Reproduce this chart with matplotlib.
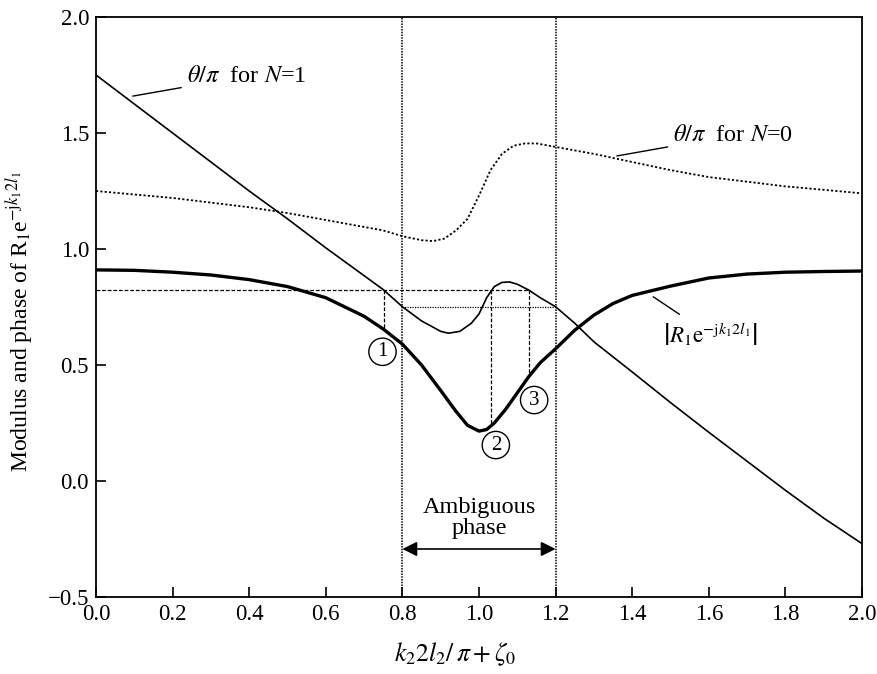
import matplotlib
matplotlib.use("Agg")
import matplotlib.pyplot as plt
import numpy as np

plt.rcParams["font.family"] = ["Liberation Serif", "DejaVu Serif"]
plt.rcParams["mathtext.fontset"] = "stix"

# theta/pi for N=1 (thin solid)
x_n1 = [0.0, 0.1, 0.2, 0.3, 0.4, 0.5, 0.6, 0.7, 0.75, 0.8, 0.85, 0.9, 0.92,
        0.95, 0.98, 1.0, 1.02, 1.04, 1.06, 1.08, 1.1, 1.13, 1.16, 1.2, 1.25,
        1.3, 1.4, 1.5, 1.6, 1.7, 1.8, 1.9, 2.0]
y_n1 = [1.75, 1.625, 1.50, 1.375, 1.25, 1.13, 1.005, 0.885, 0.825, 0.751,
        0.69, 0.645, 0.637, 0.645, 0.68, 0.72, 0.79, 0.838, 0.856, 0.858,
        0.848, 0.823, 0.79, 0.751, 0.68, 0.60, 0.47, 0.338, 0.21, 0.085,
        -0.04, -0.16, -0.27]

# theta/pi for N=0 (dotted)
x_n0 = [0.0, 0.1, 0.2, 0.3, 0.4, 0.5, 0.6, 0.7, 0.75, 0.8, 0.85, 0.88, 0.91,
        0.94, 0.97, 1.0, 1.03, 1.06, 1.09, 1.12, 1.15, 1.2, 1.3, 1.4, 1.5,
        1.6, 1.7, 1.8, 1.9, 2.0]
y_n0 = [1.25, 1.235, 1.22, 1.20, 1.18, 1.155, 1.125, 1.095, 1.08, 1.055,
        1.038, 1.034, 1.045, 1.08, 1.13, 1.23, 1.34, 1.41, 1.445, 1.455,
        1.455, 1.44, 1.41, 1.375, 1.34, 1.31, 1.29, 1.27, 1.255, 1.24]

# modulus |R1 exp(-j k1 2 l1)| (thick solid)
x_mod = [0.0, 0.1, 0.2, 0.3, 0.4, 0.5, 0.6, 0.7, 0.75, 0.8, 0.85, 0.9, 0.94,
         0.97, 1.0, 1.02, 1.04, 1.07, 1.1, 1.13, 1.16, 1.2, 1.25, 1.3, 1.35,
         1.4, 1.5, 1.6, 1.7, 1.8, 1.9, 2.0]
y_mod = [0.91, 0.908, 0.90, 0.888, 0.868, 0.838, 0.79, 0.71, 0.655, 0.59,
         0.50, 0.39, 0.30, 0.24, 0.215, 0.222, 0.25, 0.31, 0.38, 0.45, 0.51,
         0.57, 0.65, 0.715, 0.765, 0.80, 0.84, 0.875, 0.892, 0.90, 0.903,
         0.905]

# construction lines
ambig_lo, ambig_hi = 0.8, 1.2
level_hi = 0.823
level_lo = 0.751
x_points = [0.752, 1.031, 1.131]
labels = ["1", "2", "3"]
label_pos = [(0.748, 0.557), (1.044, 0.155), (1.144, 0.349)]

fig = plt.figure(figsize=(8.78, 6.74), dpi=100)
ax = fig.add_axes([96 / 878, 1 - 597 / 674, 766 / 878, 580 / 674])

ax.plot(x_n1, y_n1, color="black", lw=1.2)
ax.plot(x_n0, y_n0, color="black", lw=1.3, linestyle=(0, (1.2, 1.2)))
ax.plot(x_mod, y_mod, color="black", lw=2.4)

for xv in (ambig_lo, ambig_hi):
    ax.axvline(xv, color="black", lw=1.1, linestyle=(0, (1, 0.8)))

ax.plot([0, x_points[2]], [level_hi, level_hi], color="black", lw=0.9,
        linestyle=(0, (3, 1.5)))
ax.plot([ambig_lo, ambig_hi], [level_lo, level_lo], color="black", lw=0.9,
        linestyle=(0, (1, 1)))
for xp in x_points:
    ax.plot([xp, xp], [level_hi, np.interp(xp, x_mod, y_mod)], color="black",
            lw=0.9, linestyle=(0, (3, 1.5)))

for (tx, ty), lab in zip(label_pos, labels):
    ax.text(tx, ty, lab, ha="center", va="center", fontsize=15,
            bbox=dict(boxstyle="circle,pad=0.2", fc="white", ec="black", lw=1.0))

# curve labels with leader lines
ax.annotate(r"$\theta/\pi$  for $N$=1", xy=(0.096, 1.659), xytext=(0.237, 1.745),
            fontsize=17.5, va="center",
            arrowprops=dict(arrowstyle="-", color="black", lw=1.0, shrinkA=2, shrinkB=0))
ax.annotate(r"$\theta/\pi$  for $N$=0", xy=(1.36, 1.401), xytext=(1.507, 1.49),
            fontsize=17.5, va="center",
            arrowprops=dict(arrowstyle="-", color="black", lw=1.0, shrinkA=2, shrinkB=0))
ax.annotate(r"$\left|R_1\mathrm{e}^{-\mathrm{j}k_1 2 l_1}\right|$", xy=(1.455, 0.794),
            xytext=(1.48, 0.63), fontsize=16.5, va="center", ha="left",
            arrowprops=dict(arrowstyle="-", color="black", lw=1.0, shrinkA=6, shrinkB=0))

# ambiguous phase arrow
ax.annotate("", xy=(ambig_lo, -0.293), xytext=(ambig_hi, -0.293),
            arrowprops=dict(arrowstyle="<|-|>", color="black", lw=1.2,
                            mutation_scale=22, shrinkA=0, shrinkB=0))
ax.text(1.0, -0.16, "Ambiguous\nphase", ha="center", va="center",
        fontsize=17.5, linespacing=1.0)

ax.set_xlim(0, 2.0)
ax.set_ylim(-0.5, 2.0)
ax.set_xticks(np.arange(0, 2.01, 0.2))
ax.set_yticks(np.arange(-0.5, 2.01, 0.5))
fmt = matplotlib.ticker.FuncFormatter(lambda v, p: f"{v:.1f}".replace("-", "\u2212"))
ax.xaxis.set_major_formatter(fmt)
ax.yaxis.set_major_formatter(fmt)
ax.tick_params(direction="in", length=7, width=1.2, labelsize=16.5, pad=5)
for s in ax.spines.values():
    s.set_linewidth(1.3)

ax.set_xlabel(r"$k_2 2 l_2/\,\pi + \zeta_0$", fontsize=18.5)
ax.xaxis.set_label_coords(0.469, -0.075)
ax.set_ylabel(r"Modulus and phase of R$_1$e$^{-\mathrm{j}k_1 2 l_1}$", fontsize=17)
ax.yaxis.set_label_coords(-0.08, 0.475)

fig.savefig("out.png", dpi=100)
